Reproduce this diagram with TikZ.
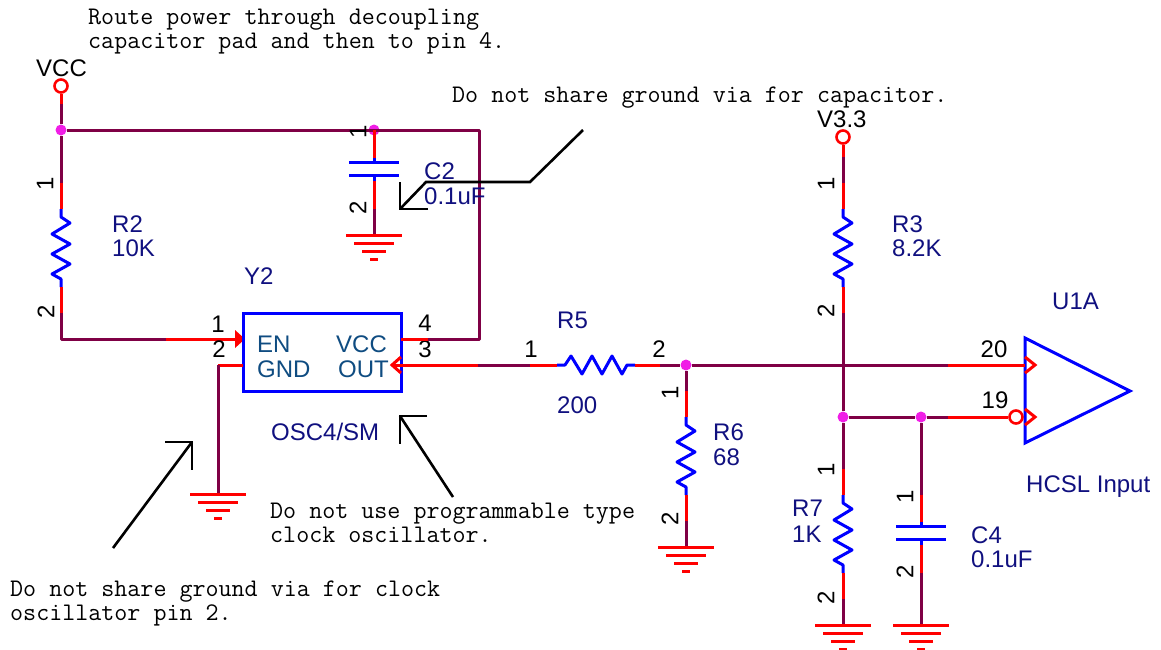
\documentclass[tikz,border=0pt]{standalone}
\usepackage{fontspec}
\setmainfont{Liberation Sans}
\definecolor{netcol}{HTML}{7F0045}
\definecolor{partcol}{HTML}{0000FF}
\definecolor{refcol}{HTML}{10107F}
\definecolor{pincol}{HTML}{0F4C81}
\definecolor{juncol}{HTML}{F01EE6}
\tikzset{
	net/.style={netcol, line width=3pt},
	pinwire/.style={red, line width=3pt},
	part/.style={partcol, line width=3pt},
	note/.style={black, line width=2.6pt},
	junc/.style={circle, fill=juncol, inner sep=0pt, minimum size=11pt},
	port/.style={circle, draw=red, line width=2.6pt, fill=white, inner sep=0pt, minimum size=13pt},
	lab/.style={anchor=base west, inner sep=0pt, font=\fontsize{24}{26}\selectfont},
	reflab/.style={lab, refcol},
	pinname/.style={lab, pincol},
	pinnum/.style={anchor=base, inner sep=0pt, font=\fontsize{24}{26}\selectfont},
	pinrot/.style={anchor=center, inner sep=0pt, rotate=90, font=\fontsize{24}{26}\selectfont},
	cmt/.style={anchor=base west, inner sep=0pt, font=\ttfamily\fontsize{25.3}{27}\selectfont},
	resist/.pic={
		\draw[part, line join=round] (0,0) -- (0,8) -- (9,14) -- (-9,25) -- (9,35) -- (-9,45) -- (9,55) -- (-9,65) -- (0,70) -- (0,78);
	},
	capac/.pic={
		\draw[part] (-25,0) -- (25,0);
		\draw[part] (-25,13) -- (25,13);
		\draw[part] (0,-4) -- (0,0);
		\draw[part] (0,13) -- (0,19);
	},
	gnd/.pic={
		\draw[pinwire] (-28,0) -- (28,0);
		\draw[pinwire] (-20,8) -- (20,8);
		\draw[pinwire] (-12,16) -- (12,16);
		\draw[pinwire] (-4,24) -- (4,24);
	},
}
\begin{document}
\begin{tikzpicture}[x=1pt, y=-1pt]
	\useasboundingbox (0,0) rectangle (1161,649);
	% supply rail and R2
	\node[port] (VCC) at (61,86) {};
	\node[lab] (VCCt) at (36,76) {VCC};
	\node[junc] (J1) at (61,130) {};
	\coordinate (VCCa) at (61,104);
	\coordinate (R2a) at (61,183);
	\coordinate (R2b) at (61,209);
	\coordinate (R2c) at (61,287);
	\coordinate (R2d) at (61,313);
	\coordinate (EN0) at (61,339);
	\coordinate (EN1) at (166,339);
	\coordinate (EN2) at (235,339);
	\draw[pinwire] (VCC) -- (VCCa);
	\draw[net] (VCCa) -- (J1);
	\draw[net] (J1) -- (R2a);
	\draw[pinwire] (R2a) -- (R2b);
	\draw (R2b) pic {resist};
	\draw[pinwire] (R2c) -- (R2d);
	\draw[net, line join=round] (R2d) -- (EN0) -- (EN1);
	\draw[pinwire] (EN1) -- (EN2);
	\fill[red] (235,330) -- (245,339) -- (235,348) -- cycle;
	\node[pinrot] (P1) at (45,184) {1};
	\node[pinrot] (P2) at (46,312) {2};
	\node[reflab] (R2) at (112,232) {R2};
	\node[reflab] (R2v) at (112,256) {10K};
	% Y2
	\node[draw=partcol, line width=3pt, minimum width=158pt, minimum height=78pt, inner sep=0pt] (Y2) at (322,352) {};
	\node[reflab] (Y2t) at (244,284) {Y2};
	\node[pinname] (EN) at (257,352) {EN};
	\node[pinname] (VCCp) at (336,352) {VCC};
	\node[pinname] (GND) at (257,377) {GND};
	\node[pinname] (OUT) at (338,377) {OUT};
	\node[reflab] (OSC) at (271,440) {OSC4/SM};
	\node[pinnum] (P3) at (218,332) {1};
	\node[pinnum] (P4) at (219,357) {2};
	\node[pinnum] (P5) at (425,331) {4};
	\node[pinnum] (P6) at (425,357) {3};
	% pin 2 to ground
	\coordinate (G0a) at (243,365);
	\coordinate (G0b) at (218,365);
	\coordinate (G0) at (218,494);
	\draw[pinwire] (G0a) -- (G0b);
	\draw[net] (G0b) -- (G0);
	\draw (G0) pic {gnd};
	% pin 4 and top rail, C2
	\coordinate (V4a) at (401,339);
	\coordinate (V4b) at (428,339);
	\coordinate (V4c) at (479,339);
	\coordinate (V4d) at (479,130);
	\node[junc] (J2) at (374,130) {};
	\coordinate (C2a) at (374,130);
	\coordinate (C2b) at (374,158);
	\coordinate (C2c) at (374,181);
	\coordinate (C2d) at (374,209);
	\coordinate (G1) at (374,235);
	\draw[pinwire] (V4a) -- (V4b);
	\draw[net, line join=round] (V4b) -- (V4c) -- (V4d) -- (J1);
	\draw[pinwire] (C2a) -- (C2b);
	\draw (374,162) pic {capac};
	\draw[pinwire] (C2c) -- (C2d);
	\draw[net] (C2d) -- (G1);
	\draw (G1) pic {gnd};
	\node[pinrot] (P7) at (358,132) {1};
	\node[pinrot] (P8) at (358,208) {2};
	\node[reflab] (C2) at (424,179) {C2};
	\node[reflab] (C2v) at (424,204) {0.1uF};
	% U1A
	\draw[part, line join=miter] (1025,338) -- (1130,391) -- (1025,443) -- cycle;
	\node[pinnum] (P19) at (994,357) {20};
	\node[pinnum] (P20) at (995,408) {19};
	\node[reflab] (U1A) at (1052,309) {U1A};
	\node[reflab] (HCSL) at (1026,492) {HCSL Input};
	% OUT to R5
	\coordinate (O1) at (393,365);
	\coordinate (O2) at (478,365);
	\coordinate (R5a) at (530,365);
	\coordinate (R5b) at (557,365);
	\coordinate (R5c) at (635,365);
	\coordinate (R5d) at (660,365);
	\node[junc] (J3) at (686,365) {};
	\coordinate (N1) at (843,365);
	\coordinate (N2) at (948,365);
	\coordinate (N3) at (1025,365);
	\draw[pinwire] (O1) -- (O2);
	\draw[pinwire] (401,357) -- (392,365) -- (401,373);
	\draw[net] (O2) -- (R5a);
	\draw[pinwire] (R5a) -- (R5b);
	\draw (R5b) pic[rotate=90] {resist};
	\draw[pinwire] (R5c) -- (R5d);
	\draw[net] (R5d) -- (J3);
	\draw[net] (J3) -- (N1);
	\draw[net] (N1) -- (N2);
	\draw[pinwire] (N2) -- (N3);
	\draw[pinwire] (1025,357) -- (1035,365) -- (1025,373);
	\node[pinnum] (P9) at (531,357) {1};
	\node[pinnum] (P10) at (659,357) {2};
	\node[reflab] (R5) at (557,328) {R5};
	\node[reflab] (R5v) at (557,413) {200};
	% R6
	\coordinate (R6a) at (686,391);
	\coordinate (R6b) at (686,417);
	\coordinate (R6c) at (686,495);
	\coordinate (R6d) at (686,521);
	\coordinate (G2) at (686,547);
	\draw[net] (J3) -- (R6a);
	\draw[pinwire] (R6a) -- (R6b);
	\draw (R6b) pic {resist};
	\draw[pinwire] (R6c) -- (R6d);
	\draw[net] (R6d) -- (G2);
	\draw (G2) pic {gnd};
	\node[pinrot] (P11) at (670,393) {1};
	\node[pinrot] (P12) at (670,519) {2};
	\node[reflab] (R6) at (713,440) {R6};
	\node[reflab] (R6v) at (713,465) {68};
	% V3.3 and R3
	\node[port] (V33) at (843,137) {};
	\node[lab] (V33t) at (817,127) {V3.3};
	\coordinate (V33a) at (843,157);
	\coordinate (R3a) at (843,183);
	\coordinate (R3b) at (843,209);
	\coordinate (R3c) at (843,287);
	\coordinate (R3d) at (843,313);
	\draw[pinwire] (V33) -- (V33a);
	\draw[net] (V33a) -- (R3a);
	\draw[pinwire] (R3a) -- (R3b);
	\draw (R3b) pic {resist};
	\draw[pinwire] (R3c) -- (R3d);
	\draw[net] (R3d) -- (N1);
	\node[pinrot] (P13) at (826,184) {1};
	\node[pinrot] (P14) at (826,311) {2};
	\node[reflab] (R3) at (892,232) {R3};
	\node[reflab] (R3v) at (892,256) {8.2K};
	% R7
	\node[junc] (J4) at (843,417) {};
	\coordinate (R7a) at (843,469);
	\coordinate (R7b) at (843,495);
	\coordinate (R7c) at (843,573);
	\coordinate (R7d) at (843,599);
	\coordinate (G3) at (843,625);
	\draw[net] (N1) -- (J4);
	\draw[net] (J4) -- (R7a);
	\draw[pinwire] (R7a) -- (R7b);
	\draw (R7b) pic {resist};
	\draw[pinwire] (R7c) -- (R7d);
	\draw[net] (R7d) -- (G3);
	\draw (G3) pic {gnd};
	\node[pinrot] (P15) at (826,470) {1};
	\node[pinrot] (P16) at (826,598) {2};
	\node[reflab] (R7) at (792,516) {R7};
	\node[reflab] (R7v) at (792,542) {1K};
	% C4
	\node[junc] (J5) at (921,417) {};
	\coordinate (N4) at (948,417);
	\node[port] (B1) at (1016,417) {};
	\coordinate (C4a) at (921,495);
	\coordinate (C4b) at (921,522);
	\coordinate (C4c) at (921,545);
	\coordinate (C4d) at (921,573);
	\coordinate (G4) at (921,625);
	\draw[net] (J4) -- (J5);
	\draw[net] (J5) -- (N4);
	\draw[pinwire] (N4) -- (B1);
	\draw[pinwire] (1025,409) -- (1035,417) -- (1025,425);
	\draw[net] (J5) -- (C4a);
	\draw[pinwire] (C4a) -- (C4b);
	\draw (921,526) pic {capac};
	\draw[pinwire] (C4c) -- (C4d);
	\draw[net] (C4d) -- (G4);
	\draw (G4) pic {gnd};
	\node[pinrot] (P17) at (905,497) {1};
	\node[pinrot] (P18) at (905,572) {2};
	\node[reflab] (C4) at (971,543) {C4};
	\node[reflab] (C4v) at (971,567) {0.1uF};
	% comments
	\node[cmt] (N1a) at (88,24) {Route power through decoupling};
	\node[cmt] (N1b) at (88,48) {capacitor pad and then to pin 4.};
	\node[cmt] (N2a) at (452,102) {Do not share ground via for capacitor.};
	\node[cmt] (N3a) at (270,518) {Do not use programmable type};
	\node[cmt] (N3b) at (270,542) {clock oscillator.};
	\node[cmt] (N4a) at (10,596) {Do not share ground via for clock};
	\node[cmt] (N4b) at (10,620) {oscillator pin 2.};
	% comment arrows
	\coordinate (A1) at (113,548);
	\coordinate (A1t) at (192,442);
	\draw[note] (A1) -- (A1t);
	\draw[note] (165,442) -- (A1t) -- (192,470);
	\coordinate (A2) at (453,497);
	\coordinate (A2t) at (400,416);
	\draw[note] (A2) -- (A2t);
	\draw[note] (427,416) -- (A2t) -- (400,444);
	\coordinate (A3) at (583,130);
	\coordinate (A3a) at (530,182);
	\coordinate (A3b) at (426,182);
	\coordinate (A3t) at (400,209);
	\draw[note] (A3) -- (A3a) -- (A3b) -- (A3t);
	\draw[note] (428,209) -- (A3t) -- (400,182);
\end{tikzpicture}
\end{document}
